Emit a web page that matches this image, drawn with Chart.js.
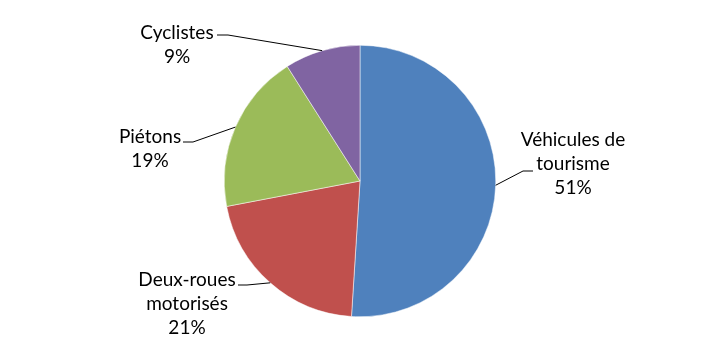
<!DOCTYPE html>
<html>
<head>
<meta charset="utf-8">
<script src="https://cdn.jsdelivr.net/npm/chart.js@4/dist/chart.umd.min.js"></script>
<style>
  html, body { margin: 0; padding: 0; background: #fff; }
  #wrap { width: 720px; height: 361px; }
</style>
</head>
<body>
<div id="wrap"><canvas id="pie"></canvas></div>
<script>
  const categories = [["Véhicules de", "tourisme"], ["Deux-roues", "motorisés"], ["Piétons"], ["Cyclistes"]];
  const values = [51, 21, 19, 9];
  const colors = ["#4F81BD", "#C0504D", "#9BBB59", "#8064A2"];

  // label placement relative to the pie centre (text centre, elbow, line end)
  const labelSpots = [
    { tx: 213, ty: -17, ex: 163, ey: -10, lx: 173 },
    { tx: -173, ty: 123, ex: -113, ey: 104, lx: -122 },
    { tx: -210, ty: -32, ex: -167, ey: -39, lx: -177 },
    { tx: -183, ty: -136, ex: -132, ey: -146, lx: -143 },
  ];

  const leaderLabels = {
    id: "leaderLabels",
    afterDatasetsDraw(chart) {
      const ctx = chart.ctx;
      const arcs = chart.getDatasetMeta(0).data;
      const total = values.reduce((a, b) => a + b, 0);
      ctx.save();
      ctx.font = "19px Lato";
      ctx.fillStyle = "#000";
      ctx.strokeStyle = "#000";
      ctx.lineWidth = 1;
      ctx.textAlign = "center";
      ctx.textBaseline = "middle";
      arcs.forEach((arc, i) => {
        const cx = arc.x, cy = arc.y;
        const mid = (arc.startAngle + arc.endAngle) / 2;
        const sx = cx + Math.cos(mid) * arc.outerRadius;
        const sy = cy + Math.sin(mid) * arc.outerRadius;
        const s = labelSpots[i];
        ctx.beginPath();
        ctx.moveTo(sx, sy);
        ctx.lineTo(cx + s.ex, cy + s.ey);
        ctx.lineTo(cx + s.lx, cy + s.ey);
        ctx.stroke();
        const lines = categories[i].concat([Math.round(values[i] / total * 100) + "%"]);
        const lh = 24;
        const top = cy + s.ty - (lines.length - 1) * lh / 2;
        lines.forEach((t, k) => ctx.fillText(t, cx + s.tx, top + k * lh));
      });
      ctx.restore();
    },
  };

  new Chart(document.getElementById("pie"), {
    type: "pie",
    data: {
      labels: categories.map((c) => c.join(" ")),
      datasets: [
        {
          data: values,
          backgroundColor: colors,
          borderColor: "#fff",
          borderWidth: 0.5,
        },
      ],
    },
    options: {
      responsive: true,
      maintainAspectRatio: false,
      animation: false,
      layout: { padding: { top: 45, bottom: 44 } },
      plugins: { legend: { display: false }, tooltip: { enabled: false } },
    },
    plugins: [leaderLabels],
  });
</script>
</body>
</html>
